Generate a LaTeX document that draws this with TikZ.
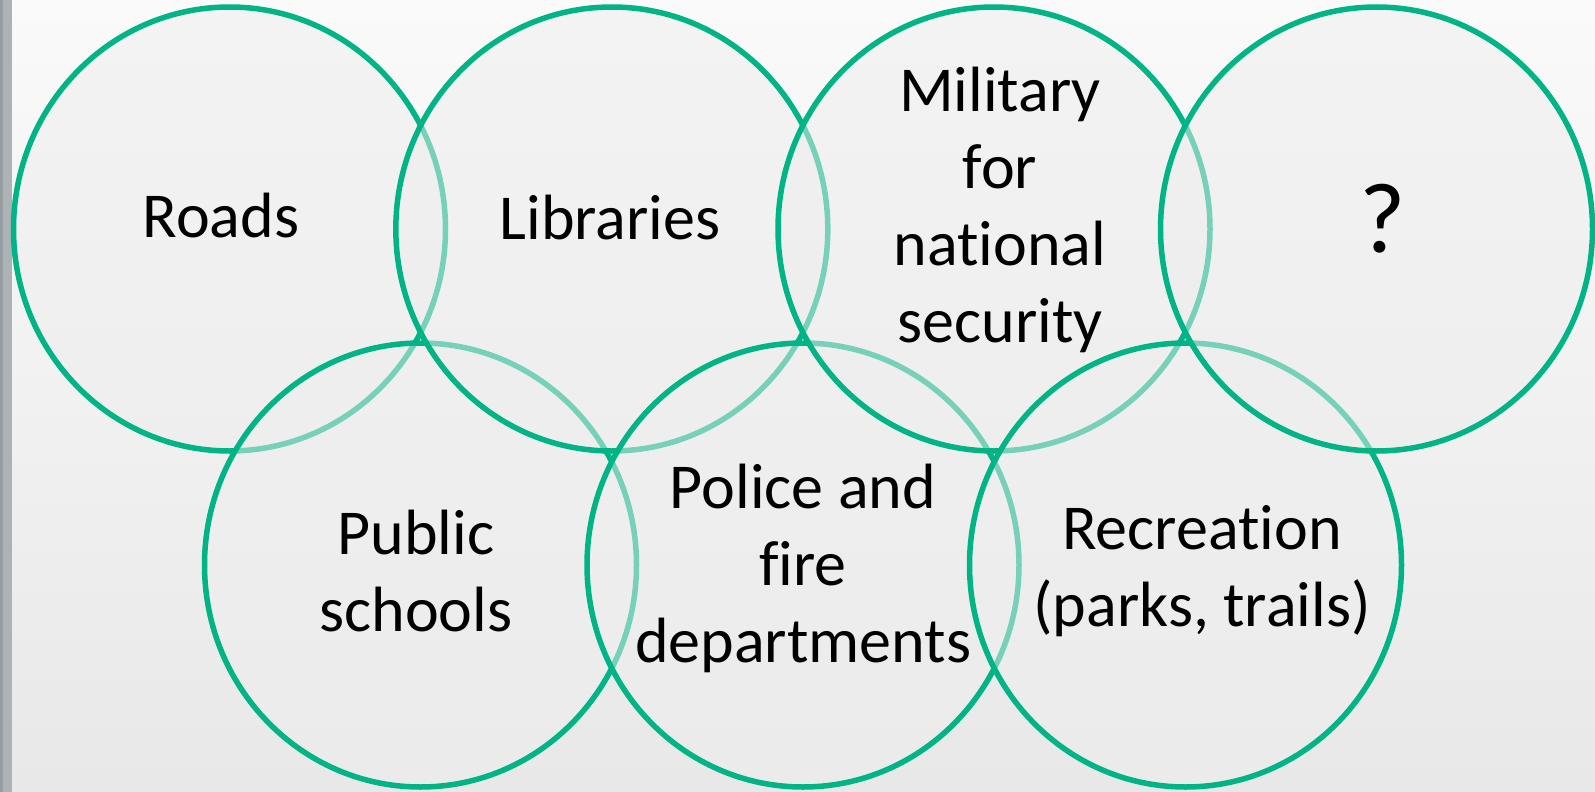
\documentclass[tikz,border=0pt]{standalone}
\usepackage{fontspec}
\setmainfont{Carlito}[Ligatures={NoCommon}]
\usetikzlibrary{shapes.geometric}
\definecolor{teal}{RGB}{0,180,133}
\definecolor{ringfill}{RGB}{238,238,238}
\definecolor{bgtop}{RGB}{250,250,250}
\definecolor{bgbot}{RGB}{232,232,232}
\definecolor{barc}{RGB}{172,178,181}
\definecolor{bardark}{RGB}{150,157,160}
\tikzset{
  ring/.style={ellipse, draw=teal, line width=5.5pt, fill=ringfill, fill opacity=0.5,
    minimum width=432pt, minimum height=444pt, inner sep=0pt, outer sep=0pt},
  lbl/.style={anchor=base, inner sep=0pt, font=\fontsize{64}{77}\selectfont, text=black}
}
\begin{document}
\begin{tikzpicture}[x=1pt,y=-1pt]
\useasboundingbox (0,0) rectangle (1595,792);
\shade[top color=bgtop, bottom color=bgbot] (0,0) rectangle (1595,792);
\fill[barc] (0,0) rectangle (12,792);
\fill[bardark] (0,0) rectangle (3,792);
% rings, drawn left to right
\node[ring] (roads) at (229.5,229) {};
\node[ring] (schools) at (420.5,565) {};
\node[ring] (libs) at (611.8,229) {};
\node[ring] (police) at (803,565) {};
\node[ring] (mil) at (994,229) {};
\node[ring] (rec) at (1185.5,565) {};
\node[ring] (q) at (1376.5,229) {};
% labels
\node[lbl] (tRoads) at (221,237) {Roads};
\node[lbl] (tLibs) at (610,239) {Libraries};
\node[lbl] (tMil1) at (1000,111) {Military};
\node[lbl] (tMil2) at (1000,188) {for};
\node[lbl] (tMil3) at (1000,265) {national};
\node[lbl] (tMil4) at (1000,342) {security};
\node[lbl, font=\fontsize{100}{110}\selectfont] (tQ) at (1383,252) {?};
\node[lbl] (tPub1) at (416,554) {Public};
\node[lbl] (tPub2) at (416,631) {schools};
\node[lbl] (tPol1) at (803,508) {Police and};
\node[lbl] (tPol2) at (803,585) {fire};
\node[lbl] (tPol3) at (803,662) {departments};
\node[lbl] (tRec1) at (1202,549) {Recreation};
\node[lbl] (tRec2) at (1202,626) {(parks, trails)};
\end{tikzpicture}
\end{document}
